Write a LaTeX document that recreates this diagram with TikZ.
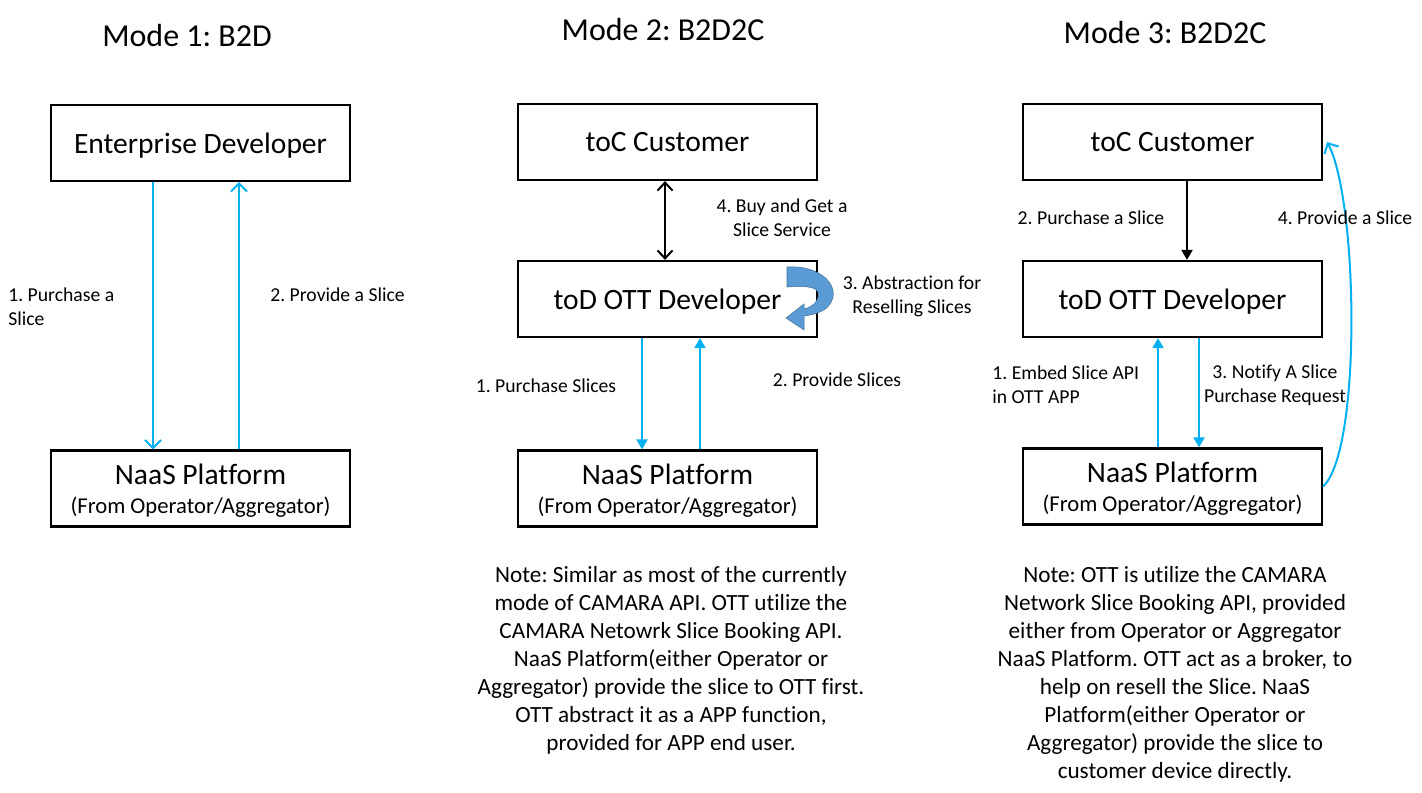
\documentclass[tikz,border=0pt]{standalone}
\usepackage{fontspec}
\setmainfont{Carlito}[Ligatures=NoCommon]
\usetikzlibrary{positioning,arrows.meta}
\definecolor{skyline}{HTML}{00B0F0}
\definecolor{bendfill}{HTML}{5B9BD5}
\definecolor{benddraw}{HTML}{41719C}
\frenchspacing
\tikzset{
  box/.style    = {draw=black, line width=0.45mm, minimum width=59.8mm,
                   minimum height=15.2mm, align=center, inner sep=2pt,
                   text depth=0pt, font=\fontsize{16.8}{20}\selectfont},
  title/.style  = {font=\fontsize{18.2}{22}\selectfont},
  lbl/.style    = {font=\fontsize{11.2}{13.6}\selectfont, inner sep=0pt},
  note/.style   = {font=\fontsize{13.2}{15.9}\selectfont, align=center, inner sep=0pt},
  flow/.style   = {draw=skyline, line width=0.4mm,
                   -{Straight Barb[length=1.6mm, width=3.2mm]}},
  flowtri/.style = {draw=skyline, line width=0.4mm,
                   -{Triangle[length=2mm, width=2.2mm]}},
  blk/.style    = {draw=black, line width=0.4mm},
}
\newcommand{\naastext}{NaaS Platform\\[-3.6pt]{\fontsize{12.9}{15}\selectfont(From Operator/Aggregator)}}
\begin{document}
\begin{tikzpicture}[x=0.02cm, y=-0.02cm]
  \useasboundingbox (0,0) rectangle (1422,792);

  % titles
  \node[title] (t1) at (187,36) {Mode 1: B2D};
  \node[title] (t2) at (663,30) {Mode 2: B2D2C};
  \node[title] (t3) at (1165,33) {Mode 3: B2D2C};

  % mode 1
  \node[box] (ent1)  at (200.5,143) {Enterprise Developer};
  \node[box] (naas1) at (200.5,488.5) {\naastext};
  \draw[flow] ([xshift=-9.5mm]ent1.south) -- ([xshift=-9.5mm]naas1.north);
  \draw[flow] ([xshift=7.7mm]naas1.north) -- ([xshift=7.7mm]ent1.south);
  \node[lbl, anchor=west, align=left] (l11) at (8,307) {1. Purchase a\\Slice};
  \node[lbl, anchor=west] (l12) at (270,295) {2. Provide a Slice};

  % mode 2
  \node[box] (toc2)  at (667.5,142) {toC Customer};
  \node[box] (ott2)  at (667.5,299) {toD OTT Developer};
  \node[box] (naas2) at (667.5,488.5) {\naastext};
  \draw[blk, {Straight Barb[length=1.6mm, width=3mm]}-{Straight Barb[length=1.6mm, width=3mm]}]
    ([xshift=-0.5mm]toc2.south) -- ([xshift=-0.5mm]ott2.north);
  \draw[flowtri] ([xshift=-5.1mm]ott2.south) -- ([xshift=-5.1mm]naas2.north);
  \draw[flowtri] ([xshift=6.5mm]naas2.north) -- ([xshift=6.5mm]ott2.south);
  \node[lbl, align=center] (l24) at (782,218) {4. Buy and Get a\\Slice Service};
  \node[lbl, align=center] (l23) at (912,296) {3. Abstraction for\\Reselling Slices};
  \node[lbl] (l21) at (546,386) {1. Purchase Slices};
  \node[lbl] (l22) at (837,380) {2. Provide Slices};
  % bent block arrow
  \fill[bendfill, draw=benddraw, line width=0.3pt]
    (787,267) .. controls (816,265) and (836,281) .. (833,297)
    .. controls (830,310) and (818,314) .. (804,316)
    -- (804,330) -- (786,318) -- (804,304) -- (804,309)
    .. controls (813,307) and (820,300) .. (818,292)
    .. controls (815,286) and (803,286) .. (787,287) -- cycle;
  \node[note] (n2) at (671,660.5) {Note: Similar as most of the currently\\
    mode of CAMARA API. OTT utilize the\\
    CAMARA Netowrk Slice Booking API.\\
    NaaS Platform(either Operator or\\
    Aggregator) provide the slice to OTT first.\\
    OTT abstract it as a APP function,\\
    provided for APP end user.};

  % mode 3
  \node[box] (toc3)  at (1172.5,142) {toC Customer};
  \node[box] (ott3)  at (1172.5,299) {toD OTT Developer};
  \node[box] (naas3) at (1172.5,486.5) {\naastext};
  \draw[blk, -{Triangle[length=2mm, width=2.2mm]}] ([xshift=2.9mm]toc3.south) -- ([xshift=2.9mm]ott3.north);
  \draw[flowtri] ([xshift=-2.9mm]naas3.north) -- ([xshift=-2.9mm]ott3.south);
  \draw[flowtri] ([xshift=5.3mm]ott3.south) -- ([xshift=5.3mm]naas3.north);
  \draw[flow] (naas3.east) .. controls (1362,450) and (1358,200) .. ([xshift=0.8mm]toc3.east);
  \node[lbl] (l32) at (1091,218) {2. Purchase a Slice};
  \node[lbl] (l34) at (1345,218) {4. Provide a Slice};
  \node[lbl, anchor=west, align=left] (l31) at (992,385) {1. Embed Slice API\\in OTT APP};
  \node[lbl, align=center] (l33) at (1275,385) {3. Notify A Slice\\Purchase Request};
  \node[note] (n3) at (1175,674.5) {Note: OTT is utilize the CAMARA\\
    Network Slice Booking API, provided\\
    either from Operator or Aggregator\\
    NaaS Platform. OTT act as a broker, to\\
    help on resell the Slice. NaaS\\
    Platform(either Operator or\\
    Aggregator) provide the slice to\\
    customer device directly.};
\end{tikzpicture}
\end{document}
